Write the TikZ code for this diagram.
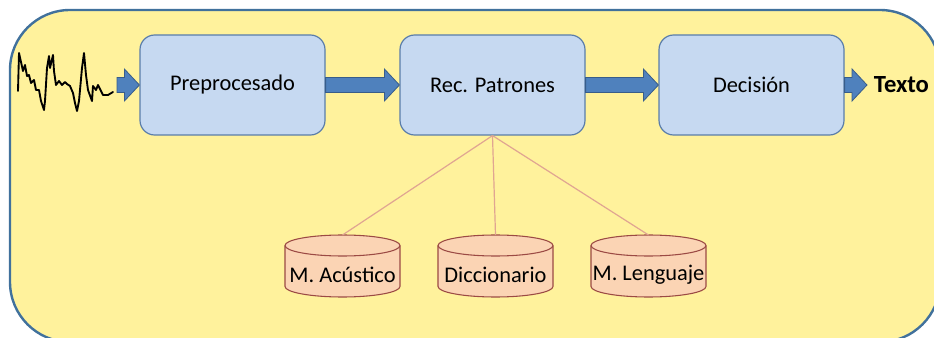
\documentclass[tikz,border=0pt]{standalone}
\usepackage{fontspec}
\setmainfont{Carlito}
\usetikzlibrary{calc}

\definecolor{panelfill}{HTML}{FFF29C}
\definecolor{paneldraw}{HTML}{41719C}
\definecolor{boxfill}{HTML}{C6D9F1}
\definecolor{boxdraw}{HTML}{5A7DAA}
\definecolor{arrfill}{HTML}{4F81BD}
\definecolor{arrdraw}{HTML}{385D8A}
\definecolor{dbfill}{HTML}{FBD4B4}
\definecolor{dbdraw}{HTML}{9B4A44}
\definecolor{linkcol}{HTML}{E0A592}

% block arrow between two points
\newcommand{\blockarrow}[2]{%
  \draw[barrow] ($(#1)+(0,7.5)$) -- ($(#2)+(-15,7.5)$) -- ($(#2)+(-15,16)$)
    -- (#2) -- ($(#2)+(-15,-16)$) -- ($(#2)+(-15,-7.5)$) -- ($(#1)+(0,-7.5)$) -- cycle;}

% cylinder: name, centre, text
\newcommand{\dbcyl}[3]{%
  \coordinate (#1-c) at (#2);
  \coordinate (#1-top) at ($(#1-c)+(0,-31)$);
  \filldraw[dbshape] ($(#1-c)+(-57.5,-20.5)$) -- ++(0,41)
    arc (180:360:43.125pt and 7.875pt) -- ++(0,-41)
    arc (0:180:43.125pt and 7.875pt) -- cycle;
  \draw[dbshape, fill=none] ($(#1-c)+(-57.5,-20.5)$) arc (180:360:43.125pt and 7.875pt);
  \node[dbtext] (#1) at ($(#1-c)+(0,9)$) {#3};}

\begin{document}
\begin{tikzpicture}[
  x=0.75pt, y=-0.75pt,
  every node/.style={font=\fontsize{16.8}{20}\selectfont},
  stage/.style={rectangle, rounded corners=11pt, draw=boxdraw, fill=boxfill,
    line width=0.9pt, minimum width=138.75pt, minimum height=75pt, inner sep=0pt},
  dbshape/.style={draw=dbdraw, fill=dbfill, line width=0.8pt},
  dbtext/.style={inner sep=0pt},
  barrow/.style={fill=arrfill, draw=arrdraw, line width=0.6pt, line join=miter},
  link/.style={draw=linkcol, line width=0.9pt}
]
\useasboundingbox (0,0) rectangle (934,338);
\clip (0,0) rectangle (934,338);

% Panel
\draw[fill=panelfill, draw=paneldraw, line width=1.8pt, rounded corners=45pt]
  (10,10) rectangle (940,342);

% Signal
\draw[line width=1.4pt, line join=round, line cap=round]
  (18,91) -- (19,53) -- (23,71) -- (25,65) -- (27,76) -- (29,75) -- (31,83)
  -- (34,80) -- (36,90) -- (39,90) -- (41,101) -- (44,110) -- (45,101) -- (47,68)
  -- (49,56) -- (50,68) -- (53,55) -- (54,71) -- (56,85) -- (59,81) -- (62,85)
  -- (65,82) -- (67,84) -- (70,86) -- (73,93) -- (75,103) -- (77,111) -- (79,101)
  -- (82,68) -- (84,53) -- (86,75) -- (88,90) -- (92,101) -- (93,86) -- (96,90)
  -- (98,85) -- (101,91) -- (103,95) -- (108,95) -- (113,92);
\coordinate (sig) at (117,85);

% Nodes
\node[stage] (pre) at (232.5,85) {Preprocesado};
\node[stage] (rec) at (492.5,85) {Rec. Patrones};
\node[stage] (dec) at (751.5,85) {Decisión};
\node[anchor=west, inner xsep=5pt, inner ysep=0pt,
  font=\fontsize{18.5}{22}\selectfont\bfseries] (txt) at (867,85) {Texto};

% Models
\dbcyl{aco}{342.5,266}{M. Acústico}
\dbcyl{dic}{495.5,266}{Diccionario}
\dbcyl{len}{648.5,266}{M. Lenguaje}

% Arrows
\blockarrow{sig}{pre.west}
\blockarrow{pre.east}{rec.west}
\blockarrow{rec.east}{dec.west}
\blockarrow{dec.east}{txt.west}

% Links to models
\draw[link] (rec.south) -- (aco-top);
\draw[link] (rec.south) -- (dic-top);
\draw[link] (rec.south) -- (len-top);

\end{tikzpicture}
\end{document}
